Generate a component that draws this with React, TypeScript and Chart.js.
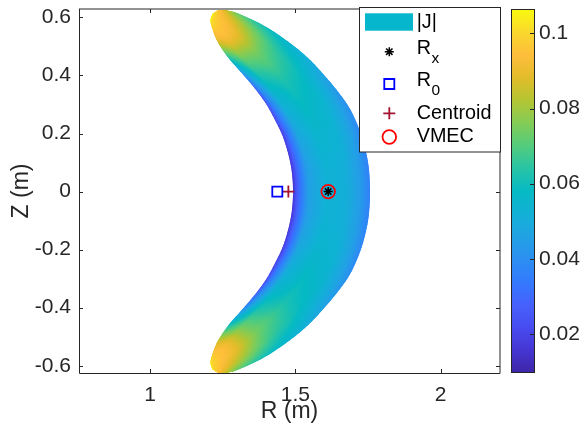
import React, { useEffect, useRef } from 'react';
import { Chart, registerables } from 'chart.js';
import { drawPoint } from 'chart.js/helpers';

Chart.register(...registerables);

// Plasma cross-section, upper half: row 0 is the midplane, the last row is the tip.
// The lower half is the mirror image (Z -> -Z).
const innerR = [1.492, 1.4878, 1.4765, 1.4576, 1.4318, 1.3994, 1.3568, 1.3148, 1.2701, 1.2329, 1.2133, 1.2085, 1.215];
const innerZ = [0, 0.068, 0.126, 0.188, 0.243, 0.302, 0.36, 0.409, 0.46, 0.515, 0.564, 0.591, 0.612];
const outerR = [1.757, 1.7527, 1.7389, 1.7183, 1.688, 1.6485, 1.602, 1.547, 1.4816, 1.3956, 1.3079, 1.2649, 1.2374];
const outerZ = [0, 0.082, 0.154, 0.219, 0.285, 0.342, 0.398, 0.457, 0.512, 0.57, 0.612, 0.624, 0.626];

// Position across the section: 0 = inboard edge, 1 = outboard edge
const acrossFrac = [0, 0.06, 0.2, 0.45, 0.7, 0.88, 1];

// |J| on each row, sampled at acrossFrac
const currentDensity = [
  [0.014, 0.027, 0.045, 0.053, 0.051, 0.044, 0.036],
  [0.014, 0.027, 0.045, 0.053, 0.051, 0.044, 0.036],
  [0.015, 0.028, 0.046, 0.054, 0.052, 0.045, 0.037],
  [0.016, 0.029, 0.048, 0.055, 0.053, 0.046, 0.038],
  [0.018, 0.031, 0.05, 0.057, 0.054, 0.047, 0.04],
  [0.021, 0.035, 0.053, 0.059, 0.056, 0.049, 0.042],
  [0.027, 0.041, 0.058, 0.062, 0.058, 0.051, 0.046],
  [0.04, 0.051, 0.065, 0.068, 0.062, 0.055, 0.05],
  [0.06, 0.066, 0.076, 0.075, 0.067, 0.059, 0.054],
  [0.085, 0.088, 0.092, 0.088, 0.077, 0.067, 0.06],
  [0.099, 0.098, 0.097, 0.094, 0.087, 0.078, 0.072],
  [0.104, 0.102, 0.099, 0.097, 0.093, 0.088, 0.084],
  [0.105, 0.104, 0.102, 0.1, 0.098, 0.096, 0.095],
];

// Reference points (R, Z) in metres
const rxPoint = [1.613, 0];
const r0Point = [1.438, 0];
const centroidPoint = [1.476, 0];
const vmecPoint = [1.613, 0];

const xRange = [0.7558, 2.204];
const yRange = [-0.625, 0.629];
const colorRange = [0.0096, 0.1065];
const xTicks = [1, 1.5, 2];
const yTicks = [-0.6, -0.4, -0.2, 0, 0.2, 0.4, 0.6];
const colorTicks = [0.02, 0.04, 0.06, 0.08, 0.1];

const legendLabels = ['|J|', 'R|x', 'R|0', 'Centroid', 'VMEC'];

// parula colour map, 17 evenly spaced stops
const PARULA = [
  [62, 38, 168], [69, 53, 210], [72, 76, 240], [70, 97, 252], [51, 122, 253],
  [44, 143, 241], [34, 162, 228], [18, 177, 214], [6, 186, 196], [40, 196, 165],
  [84, 204, 124], [132, 204, 86], [181, 197, 51], [227, 188, 43], [254, 190, 60],
  [249, 216, 44], [249, 251, 14],
];

const FONT = '"Liberation Sans", Arial, Helvetica, sans-serif';
const AXIS_COLOR = '#262626';

function colorFor(v: number): string {
  let t = (v - colorRange[0]) / (colorRange[1] - colorRange[0]);
  t = Math.min(1, Math.max(0, t));
  const n = PARULA.length - 1;
  const f = t * n;
  const i = Math.min(n - 1, Math.floor(f));
  const u = f - i;
  const a = PARULA[i];
  const b = PARULA[i + 1];
  return `rgb(${Math.round(a[0] + (b[0] - a[0]) * u)},${Math.round(a[1] + (b[1] - a[1]) * u)},${Math.round(a[2] + (b[2] - a[2]) * u)})`;
}

// Catmull-Rom evaluation of a sampled sequence at fractional index t
function spline(arr: number[], t: number): number {
  const n = arr.length;
  const i = Math.min(n - 2, Math.max(0, Math.floor(t)));
  const u = t - i;
  const p0 = arr[Math.max(0, i - 1)];
  const p1 = arr[i];
  const p2 = arr[i + 1];
  const p3 = arr[Math.min(n - 1, i + 2)];
  return 0.5 * (2 * p1 + (-p0 + p2) * u + (2 * p0 - 5 * p1 + 4 * p2 - p3) * u * u + (-p0 + 3 * p1 - 3 * p2 + p3) * u * u * u);
}

const markerStyles = [
  { pointStyle: 'star', radius: 4.5, color: '#000000', width: 1.5 },
  { pointStyle: 'rect', radius: 7.1, color: '#0000ff', width: 1.8 },
  { pointStyle: 'cross', radius: 6, color: '#a2142f', width: 1.8 },
  { pointStyle: 'circle', radius: 6.8, color: '#ff0000', width: 1.8 },
];

// Smoothly shaded |J| over the cross-section
const fieldPlugin = {
  id: 'currentDensityField',
  beforeDatasetsDraw(chart: any) {
    const { ctx, chartArea: a, scales } = chart;
    const xs = scales.x;
    const ys = scales.y;
    const m = innerR.length;
    const order: number[][] = [];
    for (let i = m - 1; i >= 1; i--) order.push([i, -1]);
    for (let i = 0; i < m; i++) order.push([i, 1]);
    const inX = order.map(([i]) => xs.getPixelForValue(innerR[i]));
    const inY = order.map(([i, s]) => ys.getPixelForValue(s * innerZ[i]));
    const outX = order.map(([i]) => xs.getPixelForValue(outerR[i]));
    const outY = order.map(([i, s]) => ys.getPixelForValue(s * outerZ[i]));
    const cols = acrossFrac.map((_, j) => order.map(([i]) => currentDensity[i][j]));
    const S = 12;
    const N = order.length;
    const grid: any[] = [];
    for (let k = 0; k <= (N - 1) * S; k++) {
      const t = k / S;
      const ix = spline(inX, t);
      const iy = spline(inY, t);
      const ox = spline(outX, t);
      const oy = spline(outY, t);
      const jv = cols.map((c) => spline(c, t));
      const row: any[] = [];
      for (let j = 0; j < acrossFrac.length - 1; j++) {
        const last = j === acrossFrac.length - 2;
        // sub-steps roughly proportional to the interval width
        const C = Math.max(2, Math.round((acrossFrac[j + 1] - acrossFrac[j]) * 50));
        for (let c = 0; c < (last ? C + 1 : C); c++) {
          const w = c / C;
          const f = acrossFrac[j] + (acrossFrac[j + 1] - acrossFrac[j]) * w;
          row.push({ x: ix + (ox - ix) * f, y: iy + (oy - iy) * f, v: jv[j] + (jv[j + 1] - jv[j]) * w });
        }
      }
      grid.push(row);
    }
    const nc = grid[0].length;
    ctx.save();
    ctx.beginPath();
    ctx.rect(a.left, a.top, a.right - a.left, a.bottom - a.top);
    ctx.clip();
    // outline of the section
    ctx.beginPath();
    grid.forEach((row: any[], k: number) => (k === 0 ? ctx.moveTo(row[0].x, row[0].y) : ctx.lineTo(row[0].x, row[0].y)));
    for (let j = 0; j < nc; j++) ctx.lineTo(grid[grid.length - 1][j].x, grid[grid.length - 1][j].y);
    for (let k = grid.length - 1; k >= 0; k--) ctx.lineTo(grid[k][nc - 1].x, grid[k][nc - 1].y);
    for (let j = nc - 1; j >= 0; j--) ctx.lineTo(grid[0][j].x, grid[0][j].y);
    ctx.closePath();
    ctx.clip();
    // cells are grown slightly so neighbours overlap and no seams show
    const grow = 0.8;
    for (let k = 0; k < grid.length - 1; k++) {
      const r1 = grid[k];
      const r2 = grid[k + 1];
      for (let j = 0; j < r1.length - 1; j++) {
        const quad = [r1[j], r1[j + 1], r2[j + 1], r2[j]];
        const cx = (quad[0].x + quad[1].x + quad[2].x + quad[3].x) / 4;
        const cy = (quad[0].y + quad[1].y + quad[2].y + quad[3].y) / 4;
        ctx.fillStyle = colorFor((quad[0].v + quad[1].v + quad[2].v + quad[3].v) / 4);
        ctx.beginPath();
        quad.forEach((p: any, n: number) => {
          const dx = p.x - cx;
          const dy = p.y - cy;
          const d = Math.hypot(dx, dy) || 1;
          const px = p.x + (dx / d) * grow;
          const py = p.y + (dy / d) * grow;
          if (n === 0) ctx.moveTo(px, py);
          else ctx.lineTo(px, py);
        });
        ctx.closePath();
        ctx.fill();
      }
    }
    ctx.restore();
  },
};

// Axes box with inward ticks, colour bar and legend
const decorPlugin = {
  id: 'decor',
  afterDraw(chart: any) {
    const { ctx, chartArea: a, scales } = chart;
    const xs = scales.x;
    const ys = scales.y;
    const cs = scales.c;
    ctx.save();

    // axes box
    ctx.strokeStyle = AXIS_COLOR;
    ctx.lineWidth = 1;
    ctx.beginPath();
    ctx.moveTo(a.left + 0.5, a.top);
    ctx.lineTo(a.left + 0.5, a.bottom + 0.5);
    ctx.lineTo(a.right, a.bottom + 0.5);
    ctx.lineTo(a.right, a.top);
    ctx.lineTo(a.left, a.top);
    ctx.stroke();
    ctx.beginPath();
    for (const v of xTicks) {
      const px = Math.round(xs.getPixelForValue(v)) + 0.5;
      ctx.moveTo(px, a.bottom);
      ctx.lineTo(px, a.bottom - 4);
      ctx.moveTo(px, a.top);
      ctx.lineTo(px, a.top + 4);
    }
    for (const v of yTicks) {
      const py = Math.round(ys.getPixelForValue(v)) + 0.5;
      ctx.moveTo(a.left, py);
      ctx.lineTo(a.left + 4, py);
      ctx.moveTo(a.right, py);
      ctx.lineTo(a.right - 4, py);
    }
    ctx.stroke();

    // colour bar
    const bx0 = cs.left + 11;
    const bx1 = cs.left + 35;
    for (let y = Math.floor(cs.top); y < cs.bottom; y++) {
      ctx.fillStyle = colorFor(cs.getValueForPixel(y + 0.5));
      ctx.fillRect(bx0, y, bx1 - bx0, 1);
    }
    ctx.strokeStyle = AXIS_COLOR;
    ctx.strokeRect(bx0 + 0.5, cs.top + 0.5, bx1 - bx0 - 1, cs.bottom - cs.top - 1);
    ctx.beginPath();
    for (const v of colorTicks) {
      const py = Math.round(cs.getPixelForValue(v)) + 0.5;
      ctx.moveTo(bx1 - 1, py);
      ctx.lineTo(bx1 - 5, py);
    }
    ctx.stroke();

    // legend
    const lx = 359.5;
    const ly = 7.5;
    ctx.fillStyle = '#ffffff';
    ctx.fillRect(lx, ly, 141, 144.5);
    ctx.strokeStyle = AXIS_COLOR;
    ctx.lineWidth = 1;
    ctx.strokeRect(lx, ly, 141, 144.5);
    const rowsY = [22, 51.7, 84, 113.3, 137];
    const mx = 389.3;
    const tx = 416.7;
    ctx.fillStyle = 'rgb(6,182,204)';
    ctx.fillRect(365, 13.3, 48, 17.4);
    markerStyles.forEach((st, k) => {
      ctx.strokeStyle = st.color;
      ctx.fillStyle = 'rgba(0,0,0,0)';
      ctx.lineWidth = st.width;
      drawPoint(ctx, { pointStyle: st.pointStyle, radius: st.radius, borderWidth: st.width, rotation: 0 }, mx, rowsY[k + 1]);
    });
    ctx.fillStyle = '#000000';
    ctx.textBaseline = 'middle';
    ctx.textAlign = 'left';
    legendLabels.forEach((label, k) => {
      const y = rowsY[k];
      const parts = label.split('|');
      if (label.indexOf('|') > 0 && parts.length === 2) {
        ctx.font = `19.8px ${FONT}`;
        ctx.fillText(parts[0], tx, y - 3.4);
        const w = ctx.measureText(parts[0]).width;
        ctx.font = `15.5px ${FONT}`;
        ctx.fillText(parts[1], tx + w + 0.5, y + 7);
      } else {
        ctx.font = `19.8px ${FONT}`;
        ctx.fillText(label, tx, k === 0 ? y + 1 : y);
      }
    });
    ctx.restore();
  },
};

// Keep the plot area fixed: no extra room for half-height tick labels
function noEdgePadding(s: any) {
  s.paddingTop = 0;
  s.paddingBottom = 0;
  s.paddingLeft = 0;
  s.paddingRight = 0;
}

export default function App() {
  const canvasRef = useRef<HTMLCanvasElement | null>(null);

  useEffect(() => {
    document.body.style.margin = '0';
    const canvas = canvasRef.current;
    if (!canvas) return;
    const tickFont = { family: FONT, size: 21 };
    const labelFont = { family: FONT, size: 23 };
    const points = [rxPoint, r0Point, centroidPoint, vmecPoint];
    const chart = new Chart(canvas, {
      type: 'scatter',
      data: {
        datasets: points.map((p, k) => ({
          label: legendLabels[k + 1],
          data: [{ x: p[0], y: p[1] }],
          pointStyle: markerStyles[k].pointStyle as any,
          pointRadius: markerStyles[k].radius,
          pointHoverRadius: markerStyles[k].radius,
          borderColor: markerStyles[k].color,
          backgroundColor: 'rgba(0,0,0,0)',
          borderWidth: markerStyles[k].width,
        })),
      },
      options: {
        responsive: false,
        animation: false,
        devicePixelRatio: 1,
        events: [],
        layout: { padding: { top: 9, left: 0, right: 0, bottom: 0 } },
        plugins: { legend: { display: false }, tooltip: { enabled: false } },
        scales: {
          x: {
            type: 'linear',
            position: 'bottom',
            min: xRange[0],
            max: xRange[1],
            afterBuildTicks: (s: any) => { s.ticks = xTicks.map((v) => ({ value: v })); },
            afterFit: (s: any) => { s.height = 52; noEdgePadding(s); },
            grid: { display: false, drawTicks: false },
            border: { display: false },
            ticks: { font: tickFont, color: AXIS_COLOR, padding: 10, autoSkip: false, maxRotation: 0, callback: (v: any) => String(v) },
            title: { display: true, text: 'R (m)', font: labelFont, color: AXIS_COLOR, padding: { top: 0, bottom: 0 } },
          },
          y: {
            type: 'linear',
            position: 'left',
            min: yRange[0],
            max: yRange[1],
            afterBuildTicks: (s: any) => { s.ticks = yTicks.map((v) => ({ value: v })); },
            afterFit: (s: any) => { s.width = 79; noEdgePadding(s); },
            grid: { display: false, drawTicks: false },
            border: { display: false },
            ticks: { font: tickFont, color: AXIS_COLOR, padding: 8, autoSkip: false, callback: (v: any) => String(v) },
            title: { display: true, text: 'Z (m)', font: labelFont, color: AXIS_COLOR, padding: { top: 8, bottom: 0 } },
          },
          c: {
            type: 'linear',
            axis: 'y',
            position: 'right',
            min: colorRange[0],
            max: colorRange[1],
            afterBuildTicks: (s: any) => { s.ticks = colorTicks.map((v) => ({ value: v })); },
            afterFit: (s: any) => { s.width = 82; noEdgePadding(s); },
            grid: { display: false, drawTicks: false },
            border: { display: false },
            ticks: { font: tickFont, color: AXIS_COLOR, padding: 39, autoSkip: false, callback: (v: any) => String(v) },
          },
        },
      } as any,
      plugins: [fieldPlugin, decorPlugin],
    });
    return () => chart.destroy();
  }, []);

  return (
    <div style={{ position: 'absolute', left: 0, top: 0, width: 582, height: 425, background: '#ffffff' }}>
      <canvas ref={canvasRef} width={582} height={425} style={{ display: 'block' }} />
    </div>
  );
}
